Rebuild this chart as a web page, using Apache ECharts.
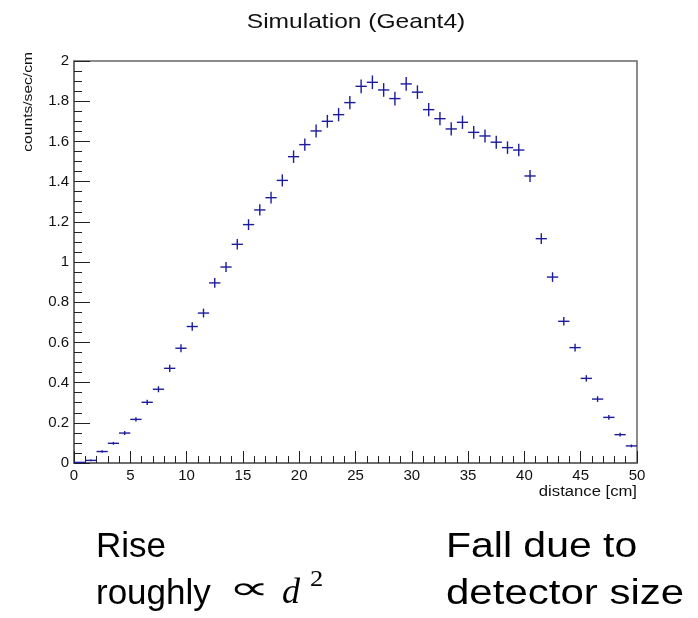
<!DOCTYPE html>
<html>
<head>
<meta charset="utf-8">
<script src="https://cdn.jsdelivr.net/npm/echarts@6/dist/echarts.min.js"></script>
<style>html,body{margin:0;padding:0;background:#fff;}#c{width:698px;height:618px;}</style>
</head>
<body>
<div id="c"></div>
<script>
// bin centres (cm)
const distances = [0.5,1.5,2.5,3.5,4.5,5.5,6.5,7.5,8.5,9.5,10.5,11.5,12.5,13.5,14.5,15.5,16.5,17.5,18.5,19.5,20.5,21.5,22.5,23.5,24.5,25.5,26.5,27.5,28.5,29.5,30.5,31.5,32.5,33.5,34.5,35.5,36.5,37.5,38.5,39.5,40.5,41.5,42.5,43.5,44.5,45.5,46.5,47.5,48.5,49.5];
// counts/sec/cm
const rates = [0.003,0.013,0.057,0.098,0.149,0.217,0.302,0.367,0.471,0.571,0.679,0.746,0.896,0.975,1.088,1.186,1.259,1.320,1.406,1.524,1.584,1.652,1.700,1.733,1.793,1.874,1.894,1.856,1.813,1.886,1.845,1.758,1.713,1.662,1.695,1.645,1.627,1.596,1.569,1.557,1.428,1.116,0.925,0.705,0.574,0.421,0.318,0.227,0.141,0.085];
// statistical errors
const errors = [0.002,0.004,0.006,0.007,0.010,0.011,0.013,0.015,0.018,0.020,0.021,0.022,0.024,0.025,0.026,0.027,0.028,0.029,0.030,0.031,0.031,0.032,0.032,0.033,0.033,0.034,0.034,0.034,0.034,0.034,0.034,0.033,0.033,0.033,0.033,0.032,0.032,0.032,0.031,0.031,0.030,0.027,0.024,0.021,0.019,0.016,0.014,0.012,0.009,0.007];
const binWidth = 1;

const chart = echarts.init(document.getElementById('c'), null, {renderer:'canvas'});
const data = distances.map((d,i)=>[d, rates[i], errors[i]]);
const markColor = '#1c1c9c';
const FONT = '"Liberation Sans", Arial, Helvetica, sans-serif';
const SERIF = '"Liberation Serif", "DejaVu Serif", serif';

const option = {
  backgroundColor: '#fff',
  animation: false,
  grid: {left: 74, right: 61, top: 61, bottom: 155, show: true, borderColor: '#666', borderWidth: 1.5, backgroundColor: 'transparent'},
  xAxis: {
    type: 'value', min: 0, max: 50, interval: 5,
    axisLine: {show: true, onZero: false, lineStyle: {color: '#666', width: 1.5}},
    axisTick: {show: true, inside: true, length: 12, lineStyle: {color: '#222', width: 1}},
    minorTick: {show: true, splitNumber: 5, length: 7, lineStyle: {color: '#222', width: 1}},
    splitLine: {show: false},
    axisLabel: {fontFamily: FONT, fontSize: 15, color: '#111', margin: 5}
  },
  yAxis: {
    type: 'value', min: 0, max: 2, interval: 0.2,
    axisLine: {show: true, lineStyle: {color: '#666', width: 1.5}},
    axisTick: {show: true, inside: true, length: 16, lineStyle: {color: '#222', width: 1}},
    minorTick: {show: true, splitNumber: 4, length: 8, lineStyle: {color: '#222', width: 1}},
    splitLine: {show: false},
    axisLabel: {fontFamily: FONT, fontSize: 15, color: '#111', margin: 5}
  },
  series: [{
    type: 'custom',
    data: data,
    encode: {x: 0, y: 1},
    renderItem: function(params, api){
      const x = api.value(0), y = api.value(1), e = api.value(2);
      const l = api.coord([x - binWidth/2, y]);
      const r = api.coord([x + binWidth/2, y]);
      const t = api.coord([x, y + e]);
      const b = api.coord([x, Math.max(0, y - e)]);
      const st = {stroke: markColor, lineWidth: 1.4};
      return {type: 'group', children: [
        {type: 'line', shape: {x1: l[0], y1: l[1], x2: r[0], y2: r[1]}, style: st},
        {type: 'line', shape: {x1: t[0], y1: t[1], x2: b[0], y2: b[1]}, style: st}
      ]};
    }
  }],
  graphic: [
    {type: 'text', x: 356, y: 22, scaleX: 1.17, style: {text: 'Simulation (Geant4)', fontFamily: FONT, fontSize: 21, fill: '#111', align: 'center', verticalAlign: 'middle'}},
    {type: 'text', x: 28.5, y: 52, rotation: Math.PI/2, scaleX: 1.2, style: {text: 'counts/sec/cm', fontFamily: FONT, fontSize: 13, fill: '#111', align: 'right', verticalAlign: 'middle'}},
    {type: 'text', x: 637, y: 492, scaleX: 1.19, style: {text: 'distance [cm]', fontFamily: FONT, fontSize: 14, fill: '#111', align: 'right', verticalAlign: 'middle'}},
    {type: 'text', x: 96, y: 547, style: {text: 'Rise', fontFamily: FONT, fontSize: 35, fill: '#000', align: 'left', verticalAlign: 'middle'}},
    {type: 'text', x: 96, y: 594, style: {text: 'roughly', fontFamily: FONT, fontSize: 35, fill: '#000', align: 'left', verticalAlign: 'middle'}},
    {type: 'text', x: 249, y: 591, scaleX: 1.8, style: {text: '∝', fontFamily: '"DejaVu Sans", sans-serif', fontSize: 32, fill: '#000', align: 'center', verticalAlign: 'middle'}},
    {type: 'text', x: 282, y: 594, style: {text: 'd', fontFamily: SERIF, fontStyle: 'italic', fontSize: 36, fill: '#000', align: 'left', verticalAlign: 'middle'}},
    {type: 'text', x: 310, y: 580, scaleX: 1.15, style: {text: '2', fontFamily: SERIF, fontSize: 23, fill: '#000', align: 'left', verticalAlign: 'middle'}},
    {type: 'text', x: 446, y: 547, scaleX: 1.17, style: {text: 'Fall due to', fontFamily: FONT, fontSize: 35, fill: '#000', align: 'left', verticalAlign: 'middle'}},
    {type: 'text', x: 446, y: 594, scaleX: 1.2, style: {text: 'detector size', fontFamily: FONT, fontSize: 35, fill: '#000', align: 'left', verticalAlign: 'middle'}}
  ]
};
chart.setOption(option);
</script>
</body>
</html>
